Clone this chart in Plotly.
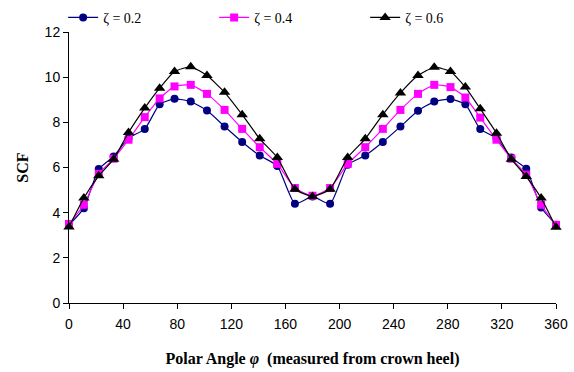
import plotly.graph_objects as go

angles = [0, 11, 22, 33, 44, 56, 67, 78, 90, 102, 115, 128, 141, 154, 167, 180,
          193, 206, 219, 232, 245, 258, 270, 282, 293, 304, 316, 327, 338, 349, 360]

scf_02 = [3.45, 4.2, 5.93, 6.49, 7.3, 7.7, 8.8, 9.04, 8.92, 8.52, 7.82, 7.13, 6.53, 6.07, 4.39, 4.72,
          4.39, 6.12, 6.53, 7.13, 7.81, 8.51, 8.92, 9.03, 8.8, 7.7, 7.3, 6.44, 5.94, 4.23, 3.47]
scf_04 = [3.5, 4.35, 5.72, 6.39, 7.23, 8.23, 9.06, 9.59, 9.66, 9.26, 8.55, 7.71, 6.9, 6.16, 5.09, 4.75,
          5.09, 6.16, 6.9, 7.71, 8.55, 9.26, 9.66, 9.56, 9.1, 8.21, 7.23, 6.39, 5.68, 4.35, 3.46]
scf_06 = [3.37, 4.65, 5.63, 6.37, 7.55, 8.63, 9.51, 10.25, 10.46, 10.07, 9.33, 8.34, 7.27, 6.44, 5.04, 4.72,
          5.04, 6.44, 7.27, 8.34, 9.3, 10.07, 10.44, 10.25, 9.56, 8.6, 7.52, 6.37, 5.6, 4.65, 3.35]

names = ["ζ = 0.2", "ζ = 0.4", "ζ = 0.6"]
series = [scf_02, scf_04, scf_06]
colors = ["#000080", "#FF00FF", "#000000"]
symbols = ["circle", "square", "triangle-up"]
sizes = [8, 8, 10]

fig = go.Figure()
for nm, ys, c, s, sz in zip(names, series, colors, symbols, sizes):
    fig.add_trace(go.Scatter(
        x=angles, y=ys, name=nm, mode="lines+markers",
        line=dict(color=c, width=1.2, shape="spline", smoothing=0.5),
        marker=dict(symbol=s, size=sz, color=c, line=dict(width=0)),
        cliponaxis=False,
    ))

fig.update_layout(
    width=574, height=372,
    margin=dict(l=69, r=18, t=32, b=69, autoexpand=False),
    paper_bgcolor="white", plot_bgcolor="white",
    font=dict(family="Liberation Sans, Arial", size=14, color="black"),
    showlegend=True,
    legend=dict(
        orientation="h", xref="container", yref="container",
        x=0.11, y=0.995, xanchor="left", yanchor="top",
        entrywidth=106, entrywidthmode="pixels",
        font=dict(family="Liberation Serif, Times New Roman", size=14, color="black"),
        itemwidth=30, bgcolor="rgba(0,0,0,0)",
    ),
    xaxis=dict(
        range=[0, 360], tickmode="array", tickvals=list(range(0, 361, 40)),
        showline=True, linecolor="black", linewidth=1,
        ticks="outside", ticklen=5, tickcolor="black",
        showgrid=False, zeroline=False,
        tickfont=dict(size=14), ticklabelstandoff=3,
        title=dict(text="<b>Polar Angle <i>φ</i>  (measured from crown heel)</b>",
                   font=dict(family="Liberation Serif, Times New Roman", size=16), standoff=22),
    ),
    yaxis=dict(
        range=[0, 12], dtick=2,
        showline=True, linecolor="black", linewidth=1,
        ticks="outside", ticklen=5, tickcolor="black",
        showgrid=False, zeroline=False,
        tickfont=dict(size=14),
        title=dict(text="<b>SCF</b>",
                   font=dict(family="Liberation Serif, Times New Roman", size=16), standoff=12),
    ),
)

fig.write_html("out.html")
